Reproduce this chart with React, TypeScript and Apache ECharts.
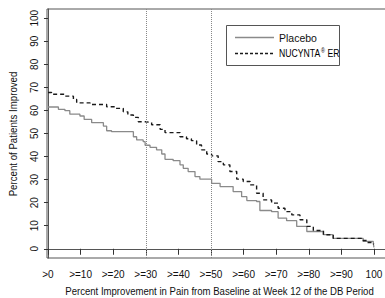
import React, { useEffect, useRef } from "react";
import * as echarts from "echarts";

const placeboX = [0, 3.2, 5.2, 6.7, 9.8, 11.1, 13.4, 17, 18, 19.5, 26.2, 27.2, 29.2, 29.8, 31.3, 33.3, 34.9, 35.9, 38.4, 40.5, 41.5, 43, 45.1, 46.6, 50.2, 52.8, 56.8, 59.4, 61, 64, 65, 68.6, 70.6, 73.2, 76.3, 79.4, 84.5, 87.5, 96.7, 99.8, 100];
const placeboY = [61.5, 60.5, 59.9, 58.4, 57.6, 56.1, 54.7, 53.2, 51.2, 50.8, 48.6, 47.2, 46.5, 44.9, 44.0, 42.9, 41.1, 38.8, 38.2, 36.4, 34.9, 33.5, 31.3, 30.2, 28.4, 27.0, 24.8, 22.6, 20.9, 20.5, 16.6, 16.1, 13.3, 12.2, 9.7, 7.5, 6.1, 4.5, 3.2, 2.2, 0.6];

const nucyntaX = [0, 1.1, 5.2, 7.8, 8.8, 12.9, 18, 20.6, 23.1, 24.5, 26.2, 27.7, 29.8, 31.8, 34.4, 35.9, 40.5, 42.5, 44, 45.6, 47.1, 48.7, 50.2, 52.2, 53.8, 55.8, 57.9, 59.9, 62, 64, 66, 68.6, 70.6, 72.7, 74.8, 77.3, 79.4, 81.4, 84.5, 87.5, 96.2, 97.8, 99.8, 100];
const nucyntaY = [67.8, 67.0, 66.2, 64.8, 63.3, 62.6, 61.6, 60.9, 59.4, 58.0, 57.0, 55.1, 54.8, 53.8, 51.8, 50.4, 48.6, 47.7, 46.9, 45.0, 42.9, 41.1, 40.3, 37.8, 36.4, 33.5, 30.2, 29.2, 27.7, 24.1, 21.2, 19.8, 17.6, 16.1, 14.7, 12.6, 9.7, 7.9, 6.1, 4.5, 3.6, 2.7, 2.2, 2.0];

const xTickValues = [0, 10, 20, 30, 40, 50, 60, 70, 80, 90, 100];
const xTickLabels = [">0", ">=10", ">=20", ">=30", ">=40", ">=50", ">=60", ">=70", ">=80", ">=90", "100"];
const yTickValues = [0, 10, 20, 30, 40, 50, 60, 70, 80, 90, 100];
const refLines = [30, 50];

const seriesNames = ["Placebo", "NUCYNTA® ER"];
const xTitle = "Percent Improvement in Pain from Baseline at Week 12 of the DB Period";
const yTitle = "Percent of Patients Improved";

const FONT = "'Liberation Sans', Arial, sans-serif";

function measure(text: string, size: number) {
  const c = document.createElement("canvas").getContext("2d");
  if (!c) return text.length * size * 0.5;
  c.font = `${size}px 'Liberation Sans', Arial, sans-serif`;
  return c.measureText(text).width;
}

export default function App() {
  const ref = useRef<HTMLDivElement>(null);
  useEffect(() => {
    if (!ref.current) return;
    const chart = echarts.init(ref.current, null, { renderer: "svg" });
    const zip = (xs: number[], ys: number[]) => xs.map((x, i) => [x, ys[i]]);
    const xTitleScale = 309 / measure(xTitle, 10);
    const yTitleScale = 125 / measure(yTitle, 10);
    const nucScale = 59 / (measure("NUCYNTA ER", 10.5) + 4);
    chart.setOption({
      animation: false,
      backgroundColor: "#fff",
      textStyle: { fontFamily: FONT },
      grid: { left: 47, top: 9, right: -2, bottom: 40, show: true, borderColor: "#555", borderWidth: 1, outerBoundsMode: "none" },
      xAxis: {
        type: "value",
        min: -0.3,
        max: 104,
        axisLine: { show: true, lineStyle: { color: "#555" } },
        axisTick: { show: true, length: 6, inside: false, customValues: xTickValues, lineStyle: { color: "#333" } },
        axisLabel: {
          customValues: xTickValues,
          formatter: (v: number) => xTickLabels[xTickValues.indexOf(Math.round(v))] ?? "",
          margin: 11,
          fontSize: 10,
          color: "#111",
          fontFamily: FONT,
        },
        splitLine: { show: false },
      },
      yAxis: {
        type: "value",
        min: -4,
        max: 104,
        axisLine: { show: true, lineStyle: { color: "#555" } },
        axisTick: { show: true, length: 4, customValues: yTickValues, lineStyle: { color: "#333" } },
        axisLabel: {
          customValues: yTickValues,
          rotate: 90,
          margin: 8,
          fontSize: 10,
          color: "#111",
          fontFamily: FONT,
        },
        splitLine: { show: false },
      },
      series: [
        {
          name: seriesNames[0],
          type: "line",
          step: "end",
          symbol: "none",
          data: zip(placeboX, placeboY),
          lineStyle: { color: "#8a8a8a", width: 1.3 },
          z: 3,
          markLine: {
            silent: true,
            symbol: "none",
            label: { show: false },
            lineStyle: { type: "dotted", color: "#888", width: 1 },
            data: refLines.map((v) => ({ xAxis: v })),
          },
        },
        {
          name: seriesNames[1],
          type: "line",
          step: "end",
          symbol: "none",
          data: zip(nucyntaX, nucyntaY),
          lineStyle: { color: "#1a1a1a", width: 1.4, type: [4, 3] },
          z: 4,
        },
      ],
      graphic: [
        {
          type: "text",
          x: 219.5,
          y: 291.5,
          scaleX: xTitleScale,
          style: { text: xTitle, fontSize: 10, fontFamily: FONT, fill: "#111", align: "center", verticalAlign: "middle" },
        },
        {
          type: "text",
          x: 13,
          y: 134,
          rotation: Math.PI / 2,
          scaleX: yTitleScale,
          style: { text: yTitle, fontSize: 10, fontFamily: FONT, fill: "#111", align: "center", verticalAlign: "middle" },
        },
        {
          type: "rect",
          shape: { x: 226.5, y: 25.5, width: 113, height: 40 },
          style: { fill: "#fff", stroke: "#555", lineWidth: 1 },
          z: 10,
        },
        {
          type: "line",
          shape: { x1: 235, y1: 37.5, x2: 274, y2: 37.5 },
          style: { stroke: "#8a8a8a", lineWidth: 1.5 },
          z: 11,
        },
        {
          type: "line",
          shape: { x1: 235, y1: 53.5, x2: 274, y2: 53.5 },
          style: { stroke: "#1a1a1a", lineWidth: 1.3, lineDash: [3, 2] },
          z: 11,
        },
        {
          type: "text",
          x: 279,
          y: 37.5,
          style: { text: seriesNames[0], fontSize: 10.5, fontFamily: FONT, fill: "#111", verticalAlign: "middle" },
          z: 11,
        },
        {
          type: "text",
          x: 279,
          y: 53.5,
          scaleX: nucScale,
          style: {
            text: "{a|NUCYNTA}{s|®}{a|\u00a0ER}",
            fontFamily: FONT,
            verticalAlign: "middle",
            rich: {
              a: { fontSize: 10.5, fontFamily: FONT, color: "#111" },
              s: { fontSize: 6.5, fontFamily: FONT, color: "#111", padding: [0, 0, 5, 1] },
            },
          },
          z: 11,
        },
      ],
    });
    return () => chart.dispose();
  }, []);
  return <div ref={ref} style={{ position: "fixed", left: 0, top: 0, width: 385, height: 298 }} />;
}
